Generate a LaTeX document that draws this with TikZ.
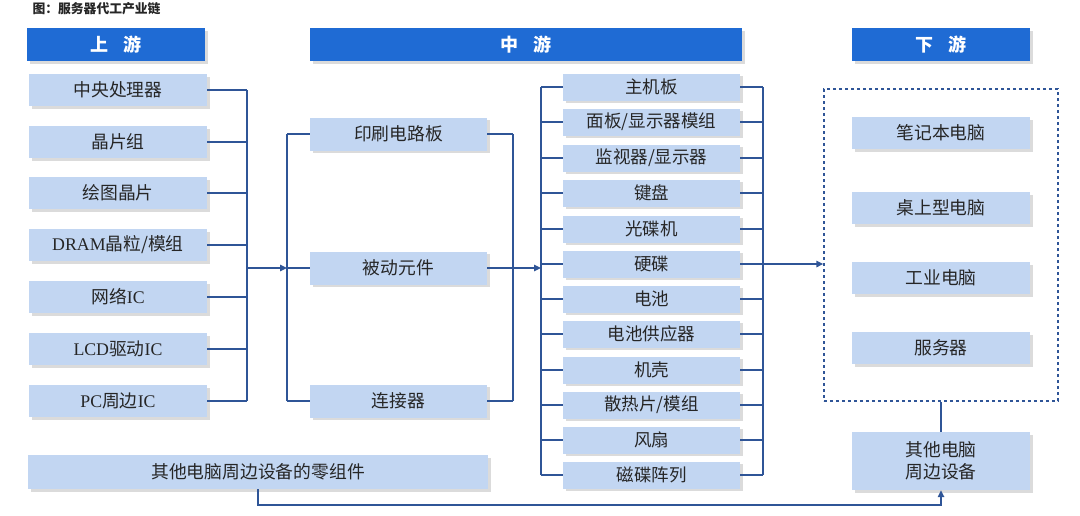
\documentclass[tikz,border=0pt]{standalone}
\usepackage{fontspec}
\setmainfont{Noto Sans CJK SC}
\newfontfamily\lat{Liberation Serif}
\usetikzlibrary{arrows.meta,shadows}
\definecolor{hdrblue}{HTML}{1F6BD4}
\definecolor{boxblue}{HTML}{C2D6F2}
\definecolor{lineblue}{HTML}{2F5597}
\definecolor{txt}{HTML}{262626}
\begin{document}
\begin{tikzpicture}[x=1pt,y=-1pt,
  shd/.style={drop shadow={shadow xshift=2.5pt,shadow yshift=-2.5pt,opacity=0.35,fill=gray!80}},
  hdr/.style={fill=hdrblue,text=white,minimum height=33pt,inner sep=0pt,font=\fontsize{18}{20}\selectfont\bfseries,shd},
  ubox/.style={fill=boxblue,text=txt,minimum width=178pt,minimum height=32pt,inner sep=0pt,font=\fontsize{17.8}{19}\selectfont,shd},
  mbox/.style={fill=boxblue,text=txt,minimum width=177pt,minimum height=33pt,inner sep=0pt,font=\fontsize{17.8}{19}\selectfont,shd},
  rbox/.style={fill=boxblue,text=txt,minimum width=177pt,minimum height=27pt,inner sep=0pt,font=\fontsize{17.5}{19}\selectfont,shd},
  conn/.style={draw=lineblue,line width=1.5pt},
  arr/.style={conn,-{Triangle[length=7pt,width=6.5pt]}},
  dashbox/.style={draw=lineblue,line width=1.4pt,dashed,minimum width=234pt,minimum height=312pt,inner sep=0pt}
]
\useasboundingbox (0,0) rectangle (1080,515);
\node[anchor=west,text=txt,font=\fontsize{12.8}{14}\selectfont\bfseries] (title) at (29,9) {图：服务器代工产业链};
% headers
\node[hdr,minimum width=178pt] (hU) at (116,44.5) {上\hspace{0.8em}游};
\node[hdr,minimum width=432pt] (hM) at (526,44.5) {中\hspace{0.8em}游};
\node[hdr,minimum width=178pt] (hD) at (941,44.5) {下\hspace{0.8em}游};
% upstream
\node[ubox] (u1) at (118,90) {中央处理器};
\node[ubox] (u2) at (118,142) {晶片组};
\node[ubox] (u3) at (118,193) {绘图晶片};
\node[ubox] (u4) at (118,245) {{\lat DRAM}晶粒/模组};
\node[ubox] (u5) at (118,297) {网络{\lat IC}};
\node[ubox] (u6) at (118,349) {{\lat LCD}驱动{\lat IC}};
\node[ubox] (u7) at (118,401) {{\lat PC}周边{\lat IC}};
% middle left
\node[mbox] (m1) at (398.5,134) {印刷电路板};
\node[mbox] (m2) at (398.5,268) {被动元件};
\node[mbox] (m3) at (398.5,401) {连接器};
% middle right
\node[rbox] (r1) at (651.5,87) {主机板};
\node[rbox] (r2) at (651.5,122) {面板/显示器模组};
\node[rbox] (r3) at (651.5,158) {监视器/显示器};
\node[rbox] (r4) at (651.5,193) {键盘};
\node[rbox] (r5) at (651.5,229) {光碟机};
\node[rbox] (r6) at (651.5,264) {硬碟};
\node[rbox] (r7) at (651.5,299) {电池};
\node[rbox] (r8) at (651.5,334) {电池供应器};
\node[rbox] (r9) at (651.5,370) {机壳};
\node[rbox] (r10) at (651.5,405) {散热片/模组};
\node[rbox] (r11) at (651.5,440) {风扇};
\node[rbox] (r12) at (651.5,475) {磁碟阵列};
% downstream
\node[dashbox] (down) at (941,245) {};
\node[ubox] (d1) at (941,133) {笔记本电脑};
\node[ubox] (d2) at (941,208) {桌上型电脑};
\node[ubox] (d3) at (941,278) {工业电脑};
\node[ubox] (d4) at (941,348) {服务器};
\node[ubox,minimum height=58pt,align=center,font=\fontsize{17.8}{22}\selectfont] (oth) at (941,461) {其他电脑\\周边设备};
\node[ubox,minimum width=460pt,minimum height=34pt] (bl) at (258,472) {其他电脑周边设备的零组件};
% bus coordinates
\coordinate (b1) at (247,268);
\coordinate (b2) at (287,268);
\coordinate (b3) at (513,268);
\coordinate (b4) at (541,268);
\coordinate (b5) at (763,264);
\coordinate (bot) at (258,505);
% upstream connectors
\foreach \n in {u1,u2,u3,u4,u5,u6,u7}{\draw[conn] (\n.east) -- (\n.east -| b1);}
\draw[conn] (u1.east -| b1) -- (u7.east -| b1);
\draw[arr] (b1) -- (b2);
% middle-left
\foreach \n in {m1,m2,m3}{\draw[conn] (\n.west) -- (\n.west -| b2); \draw[conn] (\n.east) -- (\n.east -| b3);}
\draw[conn] (m1.west -| b2) -- (m3.west -| b2);
\draw[conn] (m1.east -| b3) -- (m3.east -| b3);
\draw[arr] (b3) -- (b4);
% middle-right
\foreach \n in {r1,r2,r3,r4,r5,r6,r7,r8,r9,r10,r11,r12}{\draw[conn] (\n.west) -- (\n.west -| b4); \draw[conn] (\n.east) -- (\n.east -| b5);}
\draw[conn] (r1.west -| b4) -- (r12.west -| b4);
\draw[conn] (r1.east -| b5) -- (r12.east -| b5);
\draw[arr] (r6.east) -- (r6.east -| down.west);
% bottom
\draw[conn] (oth.north) -- (down.south);
\draw[arr] (bl.south) -- (bot) -| (oth.south);
\end{tikzpicture}
\end{document}
